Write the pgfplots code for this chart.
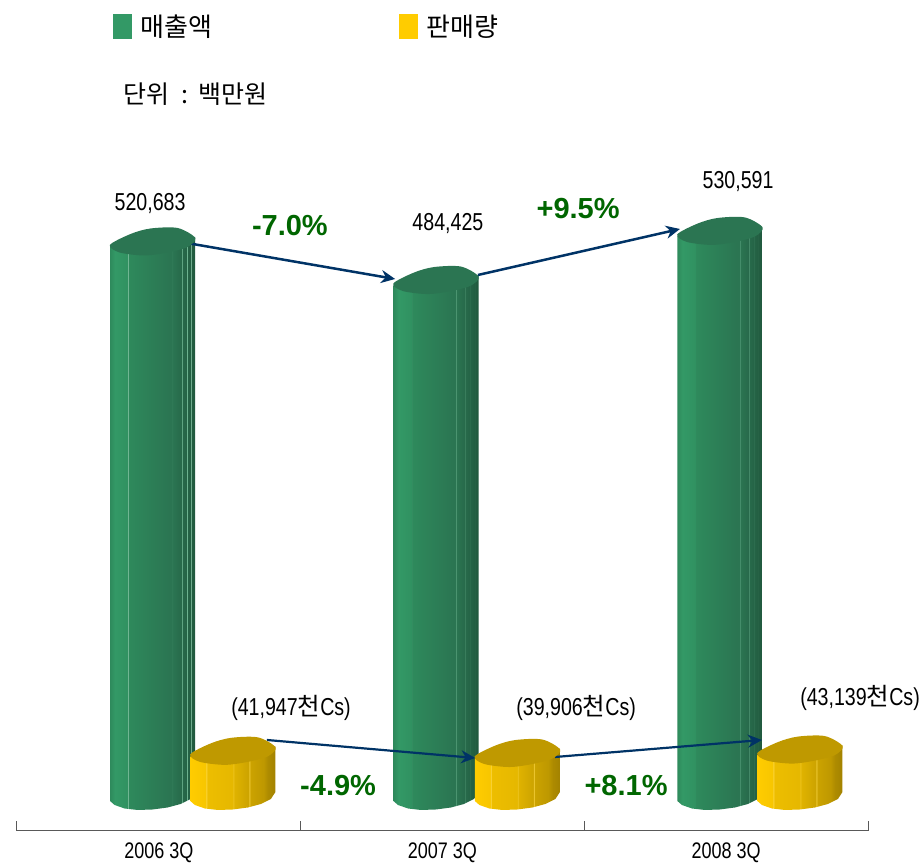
\documentclass[border=0pt]{standalone}
\usepackage{fontspec}
\usepackage{pgfplots}
\pgfplotsset{compat=1.18}
\usetikzlibrary{arrows.meta}
\setmainfont{Liberation Sans}
\newfontfamily\narrowf[FakeStretch=0.8]{Liberation Sans}
\newfontfamily\cjk{Noto Sans CJK KR}
\definecolor{gcap}{HTML}{2B7552}
\definecolor{ycap}{HTML}{BF9900}
\definecolor{gbase}{HTML}{339966}
\definecolor{ybase}{HTML}{FFCC00}
\definecolor{navyarrow}{HTML}{003366}
\definecolor{pct}{HTML}{006600}
\pgfdeclarehorizontalshading{greencyl}{100bp}{
 color(0bp)=(gbase!90!black); color(25bp)=(gbase!90!black); color(28bp)=(gbase);
 color(35.4bp)=(gbase!95!black); color(35.6bp)=(gbase!60!white); color(35.9bp)=(gbase!90!black);
 color(60bp)=(gcap); color(61.4bp)=(gcap); color(61.6bp)=(gbase!70!white); color(61.9bp)=(gcap);
 color(67bp)=(gcap!90!black); color(67.2bp)=(gbase!70!white); color(67.5bp)=(gcap!90!black);
 color(70bp)=(gcap!85!black); color(70.2bp)=(gbase!70!white); color(70.5bp)=(gcap!85!black);
 color(72.4bp)=(gcap!80!black); color(72.6bp)=(gbase!60!white); color(72.9bp)=(gcap!80!black);
 color(75bp)=(gcap!75!black); color(100bp)=(gcap!75!black)}
\pgfdeclarehorizontalshading{yellowcyl}{100bp}{
 color(0bp)=(ybase); color(25bp)=(ybase); color(34bp)=(ybase!97!black);
 color(34.3bp)=(ybase!95!black); color(34.5bp)=(ybase!60!white); color(34.8bp)=(ybase!93!black);
 color(49.9bp)=(ybase!90!black); color(50.1bp)=(ybase!70!white); color(50.4bp)=(ybase!88!black);
 color(59.4bp)=(ybase!80!black); color(59.6bp)=(ybase!70!white); color(59.9bp)=(ybase!80!black);
 color(67.4bp)=(ycap); color(67.6bp)=(ybase!70!white); color(67.9bp)=(ycap);
 color(70.9bp)=(ycap!90!black); color(71.1bp)=(ybase!60!white); color(71.4bp)=(ycap!90!black);
 color(75bp)=(ycap!85!black); color(100bp)=(ycap!85!black)}
% top of a cylinder: slightly irregular blob
\newcommand{\blobpath}{\pgfplothandlerclosedcurve\pgfplotstreamstart
 \pgfplotstreampoint{\pgfqpoint{-42.7pt}{-3pt}}
 \pgfplotstreampoint{\pgfqpoint{-22pt}{8pt}}
 \pgfplotstreampoint{\pgfqpoint{-2pt}{13.5pt}}
 \pgfplotstreampoint{\pgfqpoint{25pt}{14pt}}
 \pgfplotstreampoint{\pgfqpoint{42.7pt}{4pt}}
 \pgfplotstreampoint{\pgfqpoint{35pt}{-5pt}}
 \pgfplotstreampoint{\pgfqpoint{15pt}{-10.5pt}}
 \pgfplotstreampoint{\pgfqpoint{-8pt}{-13.5pt}}
 \pgfplotstreampoint{\pgfqpoint{-33pt}{-10.5pt}}
 \pgfplotstreamend}
\pgfdeclareplotmark{gcapm}{\pgfsetfillcolor{gcap}\blobpath\pgfusepathqfill}
\pgfdeclareplotmark{ycapm}{\pgfsetfillcolor{ycap}\blobpath\pgfusepathqfill}
\newcommand{\vallabel}{\narrowf\fontsize{24.5}{28}\selectfont}
\newcommand{\pctlabel}{\fontsize{29}{33}\selectfont\bfseries\color{pct}}
\begin{document}
\begin{tikzpicture}
\useasboundingbox (-17pt,-33pt) rectangle (905pt,831pt);
\begin{axis}[
 scale only axis, width=851pt, height=831pt,
 xmin=0, xmax=3, ymin=-32900, ymax=748120,
 clip=false,
 axis y line=none, axis x line*=bottom,
 x axis line style={color=black!65,line width=1pt},
 xtick={0,1,2,3}, xticklabels={},
 tick align=inside, major tick length=10pt,
 xtick style={color=black!65,line width=1pt},
 extra x ticks={0.5,1.5,2.5},
 extra x tick labels={2006 3Q,2007 3Q,2008 3Q},
 extra x tick style={major tick length=0pt,tick style={draw=none}},
 xticklabel style={font=\narrowf\fontsize{22.5}{26}\selectfont,yshift=-8pt},
 legend style={at={(axis cs:0.337,748120)},anchor=north west,draw=none,fill=none,
   legend columns=2,inner sep=0pt,yshift=-14pt,
   /tikz/every even column/.append style={column sep=187pt},
   nodes={inner sep=0pt,font=\cjk\fontsize{26}{30}\selectfont}},
 legend cell align=left,
]
% sales bodies
\addplot[draw=none,shading=greencyl,forget plot] coordinates {(0.328,515983)(0.628,525383)(.628,3760)(.612,-2820)(.5767,-7520)(.5309,-10810)(.478,-12690)(.4251,-13160)(.3793,-11750)(.344,-8460)(.328,-4700)} --cycle;
\addplot[only marks,mark=gcapm,forget plot] coordinates {(0.478,520683)};
\addplot[draw=none,shading=greencyl,forget plot] coordinates {(1.327,479725)(1.627,489125)(1.627,3760)(1.611,-2820)(1.5757,-7520)(1.5299,-10810)(1.477,-12690)(1.4241,-13160)(1.3783,-11750)(1.343,-8460)(1.327,-4700)} --cycle;
\addplot[only marks,mark=gcapm,forget plot] coordinates {(1.477,484425)};
\addplot[draw=none,shading=greencyl,forget plot] coordinates {(2.328,525891)(2.628,535291)(2.628,3760)(2.612,-2820)(2.5767,-7520)(2.5309,-10810)(2.478,-12690)(2.4251,-13160)(2.3793,-11750)(2.344,-8460)(2.328,-4700)} --cycle;
\addplot[only marks,mark=gcapm,forget plot] coordinates {(2.478,530591)};
% volume bodies
\addplot[draw=none,shading=yellowcyl,forget plot] coordinates {(0.611,37247)(0.911,46647)(.911,3760)(.895,-2820)(.8597,-7520)(.8139,-10810)(.761,-12690)(.7081,-13160)(.6623,-11750)(.627,-8460)(.611,-4700)} --cycle;
\addplot[only marks,mark=ycapm,forget plot] coordinates {(0.761,41947)};
\addplot[draw=none,shading=yellowcyl,forget plot] coordinates {(1.614,35206)(1.914,44606)(1.914,3760)(1.898,-2820)(1.8627,-7520)(1.8169,-10810)(1.764,-12690)(1.7111,-13160)(1.6653,-11750)(1.63,-8460)(1.614,-4700)} --cycle;
\addplot[only marks,mark=ycapm,forget plot] coordinates {(1.764,39906)};
\addplot[draw=none,shading=yellowcyl,forget plot] coordinates {(2.61,38439)(2.91,47839)(2.91,3760)(2.894,-2820)(2.8587,-7520)(2.8129,-10810)(2.76,-12690)(2.7071,-13160)(2.6613,-11750)(2.626,-8460)(2.61,-4700)} --cycle;
\addplot[only marks,mark=ycapm,forget plot] coordinates {(2.76,43139)};
% arrows
\addplot[navyarrow,line width=2.5pt,-{Stealth[length=14pt,width=13pt]},forget plot] coordinates {(0.599,519737)(1.333,485902)};
\addplot[navyarrow,line width=2.5pt,-{Stealth[length=14pt,width=13pt]},forget plot] coordinates {(1.625,489662)(2.337,532895)};
\addplot[navyarrow,line width=2.2pt,-{Stealth[length=14pt,width=13pt]},forget plot] coordinates {(0.881,52632)(1.615,35714)};
\addplot[navyarrow,line width=2.2pt,-{Stealth[length=14pt,width=13pt]},forget plot] coordinates {(1.897,36654)(2.626,52632)};
% legend
\addlegendimage{legend image code/.code={\fill[gbase] (0pt,-12pt) rectangle (18pt,12pt);\path (27pt,0pt);}}
\addlegendentry{매출액}
\addlegendimage{legend image code/.code={\fill[ybase] (0pt,-12pt) rectangle (18pt,12pt);\path (27pt,0pt);}}
\addlegendentry{판매량}
% labels
\node[font=\vallabel] at (axis cs:0.469,556771) {520,683};
\node[font=\vallabel] at (axis cs:1.519,538474) {484,425};
\node[font=\vallabel] at (axis cs:2.542,577447) {530,591};
\node[font=\pctlabel] at (axis cs:0.962,536594) {-7.0\%};
\node[font=\pctlabel] at (axis cs:1.978,552571) {+9.5\%};
\node[font=\pctlabel] at (axis cs:1.132,10278) {-4.9\%};
\node[font=\pctlabel] at (axis cs:2.147,10278) {+8.1\%};
\node[font=\vallabel] at (axis cs:0.966,82707) {(41,947{\cjk 천}Cs)};
\node[font=\vallabel] at (axis cs:1.971,82707) {(39,906{\cjk 천}Cs)};
\node[font=\vallabel] at (axis cs:2.972,92105) {(43,139{\cjk 천}Cs)};
\node[font=\cjk\fontsize{25}{28}\selectfont,anchor=west,inner sep=0pt] at (axis cs:0.374,660000) {단위\hspace{12pt}:\hspace{10pt}백만원};
\end{axis}
\end{tikzpicture}
\end{document}
